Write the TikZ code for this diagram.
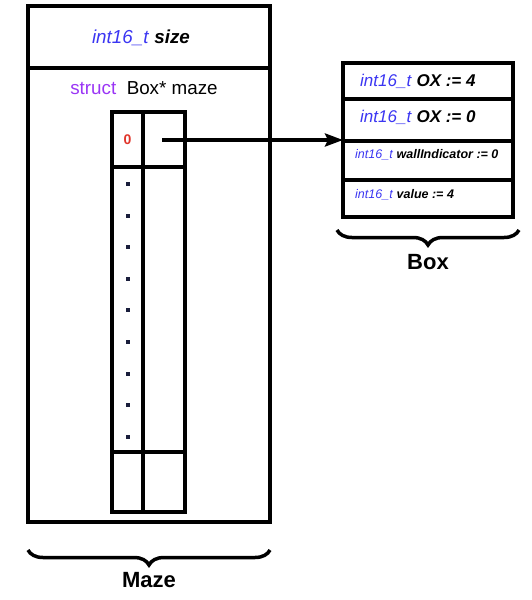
\documentclass[tikz,border=0pt]{standalone}
\usepackage{fontspec}
\setmainfont{Liberation Sans}
\usepackage{xcolor}
\usepackage{tikz}
\usetikzlibrary{arrows.meta,positioning,calc,decorations.pathreplacing}
\definecolor{typeBlue}{HTML}{3B36F2}
\definecolor{kwPurple}{HTML}{9A35F5}
\definecolor{idxRed}{HTML}{E0352A}
\definecolor{dotNavy}{HTML}{1A1E3C}
\newcommand{\tname}[1]{\textcolor{typeBlue}{\textit{#1}}}

\begin{document}
\begin{tikzpicture}[
  x=1pt, y=-1pt,
  cell/.style={draw, line width=3.5pt, outer sep=0pt, inner sep=0pt},
  huge/.style={font=\fontsize{18.8}{22}\selectfont, inner sep=0pt},
  big/.style={font=\fontsize{17}{20}\selectfont, inner sep=0pt},
  small/.style={font=\fontsize{12.5}{15}\selectfont, inner sep=0pt},
  title/.style={font=\fontsize{22}{26}\selectfont\bfseries},
  dotsq/.style={fill=dotNavy, minimum size=4pt, inner sep=0pt},
  arr/.style={-{Stealth[length=18pt,width=13pt,inset=3pt]}, line width=3.5pt},
  brace/.style={decorate, decoration={brace, mirror, amplitude=15pt}, line width=3.5pt}
]
\useasboundingbox (0,0) rectangle (531,600);

% Maze struct
\node[cell, anchor=north west, minimum width=242pt, minimum height=62pt] (sizecell) at (28,6) {};
\node[cell, below=0pt of sizecell, minimum width=242pt, minimum height=454pt] (mazecell) {};
\node[huge] (sizelbl) at (141,38) {\tname{int16\_t} \textbf{\textit{size}}};
\node[huge] (ptrlbl) at (144,88) {\textcolor{kwPurple}{struct}\ \ Box* maze};

% array of boxes
\node[cell, anchor=north west, minimum width=31pt, minimum height=55pt] (a00) at (112,112)
  {\fontsize{14}{16}\selectfont\bfseries\textcolor{idxRed}{0}};
\node[cell, right=0pt of a00, minimum width=42pt, minimum height=55pt] (a01) {};
\node[cell, below=0pt of a00, minimum width=31pt, minimum height=285pt] (a10) {};
\node[cell, right=0pt of a10, minimum width=42pt, minimum height=285pt] (a11) {};
\node[cell, below=0pt of a10, minimum width=31pt, minimum height=60pt] (a20) {};
\node[cell, right=0pt of a20, minimum width=42pt, minimum height=60pt] (a21) {};
\foreach \i in {0,...,8}
  \node[dotsq] (dot\i) at (128,184+31.6*\i) {};

% Box struct
\node[cell, anchor=north west, minimum width=170pt, minimum height=36pt] (ox) at (343,63) {};
\node[cell, below=0pt of ox, minimum width=170pt, minimum height=42pt] (oy) {};
\node[cell, below=0pt of oy, minimum width=170pt, minimum height=39pt] (wall) {};
\node[cell, below=0pt of wall, minimum width=170pt, minimum height=37pt] (val) {};
\node[big, anchor=west] (oxlbl) at ([xshift=17pt]ox.west) {\tname{int16\_t} \textbf{\textit{OX := 4}}};
\node[big, anchor=west] (oylbl) at ([xshift=17pt,yshift=3pt]oy.west) {\tname{int16\_t} \textbf{\textit{OX := 0}}};
\node[small, anchor=west] (walllbl) at ([xshift=12pt,yshift=-14pt]wall.north west) {\tname{int16\_t} \textbf{\textit{wallIndicator := 0}}};
\node[small, anchor=west] (vallbl) at ([xshift=12pt,yshift=-15pt]val.north west) {\tname{int16\_t} \textbf{\textit{value := 4}}};

% pointer
\coordinate (ptr) at (162,140);
\draw[arr] (ptr) -- (ptr -| ox.west);

% braces
\draw[brace] ([yshift=-28pt]mazecell.south west) -- ([yshift=-28pt]mazecell.south east);
\node[title] (mazename) at ([yshift=-58pt]mazecell.south) {Maze};
\draw[brace] ([shift={(-6pt,-13pt)}]val.south west) -- ([shift={(6pt,-13pt)}]val.south east);
\node[title] (boxname) at ([yshift=-45pt]val.south) {Box};
\end{tikzpicture}
\end{document}
